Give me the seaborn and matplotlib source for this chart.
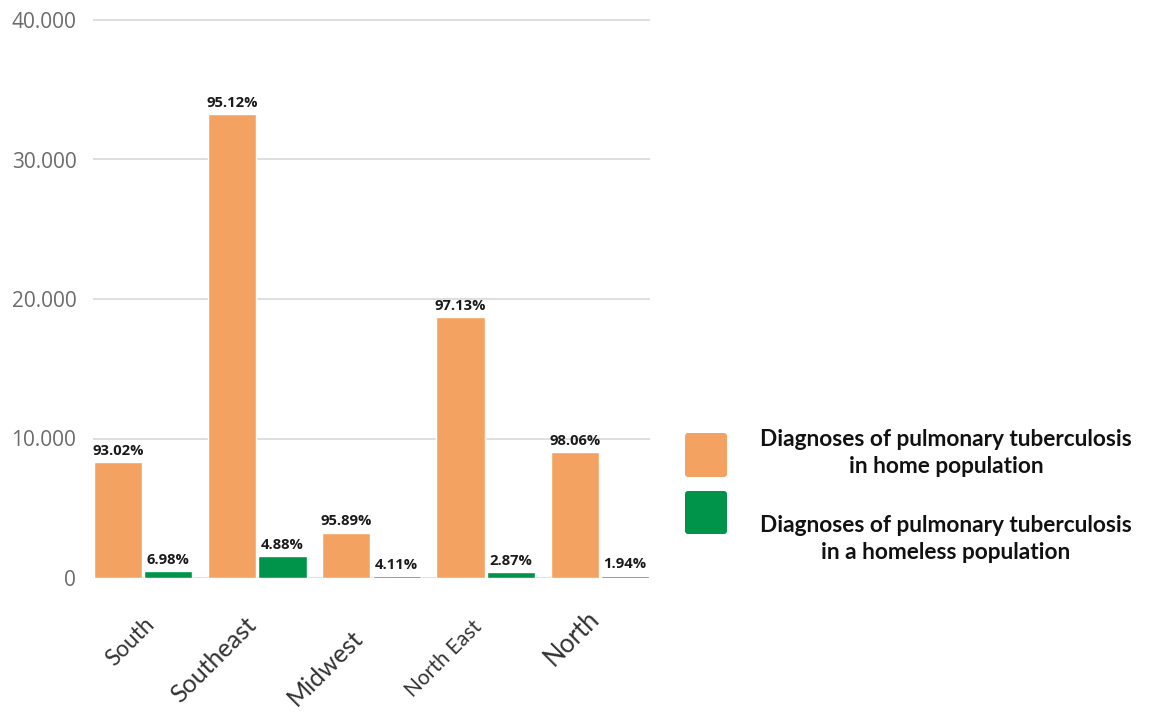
import matplotlib
matplotlib.use("Agg")
import matplotlib.pyplot as plt
import matplotlib.transforms as mtransforms
from matplotlib.patches import FancyBboxPatch
import seaborn as sns
import pandas as pd

# ---- data ----
regions = ["South", "Southeast", "Midwest", "North East", "North"]
home_cases = [8300, 33250, 3250, 18700, 9050]
homeless_cases = [510, 1600, 140, 450, 170]
home_pct = ["93.02%", "95.12%", "95.89%", "97.13%", "98.06%"]
homeless_pct = ["6.98%", "4.88%", "4.11%", "2.87%", "1.94%"]
series_names = ["Diagnoses of pulmonary tuberculosis\nin home population",
                "Diagnoses of pulmonary tuberculosis\nin a homeless population"]
yticks = [0, 10000, 20000, 30000, 40000]
ytick_labels = ["0", "10.000", "20.000", "30.000", "40.000"]

# ---- style ----
colors = ["#F4A261", "#00934A"]
xlabel_sizes = [16.3, 18, 18, 15, 18.4]
xlabel_shift_px = [(8, 21), (-5, 21), (-12, 34), (-7, 24), (-5, 15)]

df = pd.DataFrame({
    "region": regions * 2,
    "value": home_cases + homeless_cases,
    "series": [series_names[0]] * len(regions) + [series_names[1]] * len(regions),
})

sns.set_style("white")
plt.rcParams["font.family"] = ["Lato", "DejaVu Sans"]

fig = plt.figure(figsize=(11.5, 7.12), dpi=100)
W, H = 1150, 712
ax_left, ax_right = 93, 650
y0_px = 578
px_per_10k = 139.5
ymax = 40400
ax_top = y0_px - ymax / 10000 * px_per_10k
ax = fig.add_axes([ax_left / W, 1 - y0_px / H, (ax_right - ax_left) / W, (y0_px - ax_top) / H])

sns.barplot(data=df, x="region", y="value", hue="series", palette=colors,
            width=0.88, gap=0.04, saturation=1, ax=ax, legend=False)

ax.set_xlim(-0.44, 4.44)
ax.set_ylim(0, ymax)
ax.set_yticks(yticks)
ax.set_yticklabels(ytick_labels, fontsize=15, color="#6b6b6b", family=["Open Sans", "DejaVu Sans"])
ax.tick_params(axis="y", length=0, pad=12)
ax.tick_params(axis="x", length=0, pad=16)
ax.yaxis.grid(True, color="#dcdcdc", lw=1.3)
ax.set_axisbelow(True)
sns.despine(ax=ax, left=True, bottom=True)
ax.set_xlabel("")
ax.set_ylabel("")

ax.set_xticks(range(len(regions)))
ax.set_xticklabels(regions)
for t, s, (dx, dy) in zip(ax.get_xticklabels(), xlabel_sizes, xlabel_shift_px):
    t.set_rotation(45)
    t.set_ha("right")
    t.set_va("center")
    t.set_rotation_mode("anchor")
    t.set_fontsize(s)
    t.set_color("#333333")
    t.set_transform(t.get_transform() +
                    mtransforms.ScaledTranslation(dx / 100, -dy / 100, fig.dpi_scale_trans))

for cont, labs in zip(ax.containers, [home_pct, homeless_pct]):
    ax.bar_label(cont, labels=labs, padding=3, fontsize=10.6, fontweight="bold",
                 color="#1a1a1a", family=["Open Sans", "DejaVu Sans"])

# ---- legend (drawn manually in pixel coordinates) ----
ident = mtransforms.IdentityTransform()
patch_boxes = [(685, 433, 42, 44), (685, 491, 42, 43)]
text_baselines = [(446, 473), (532, 559)]
for col, (px, py, pw, ph), name, bases in zip(colors, patch_boxes, series_names, text_baselines):
    fig.patches.append(FancyBboxPatch((px, H - py - ph), pw, ph,
                                      boxstyle="round,pad=0,rounding_size=3",
                                      transform=ident, facecolor=col, edgecolor="none"))
    for line, b in zip(name.split("\n"), bases):
        fig.text(946 / W, 1 - b / H, line, ha="center", va="baseline",
                 fontsize=16.3, fontweight="bold", color="#111111")

fig.savefig("out.png", dpi=100)
